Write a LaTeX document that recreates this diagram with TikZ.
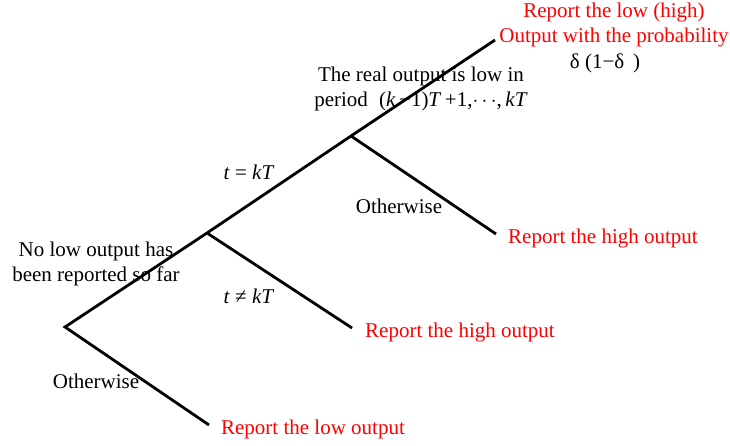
\documentclass[tikz,border=0pt]{standalone}
\usepackage{fontspec}
\setmainfont{Liberation Serif}
\newfontfamily\ser{Liberation Serif}
\begin{document}
\begin{tikzpicture}[x=1pt,y=-1pt,
  branch/.style={line width=2.8pt},
  lbl/.style={inner sep=0pt,font=\ser\fontsize{21}{24.5}\selectfont,align=center},
  res/.style={lbl,text=red}]
\useasboundingbox (0,0) rectangle (730,445);
\coordinate (A) at (65,327);
\coordinate (B) at (207,233);
\coordinate (C) at (351,136);
\coordinate (D) at (495,40);
\coordinate (E) at (209,425);
\coordinate (F) at (352,328);
\coordinate (G) at (496,234);
\draw[branch] (E) -- (A) -- (B) -- (C) -- (D);
\draw[branch] (B) -- (F);
\draw[branch] (C) -- (G);
% labels
\node[res] (topres) at (614,25) {Report the low (high)\\Output with the probability};
\node[lbl] (delta) at (605,63) {δ (1−δ\, )};
\node[lbl] (real) at (421,89) {The real output is low in\\period\; (\textit{k}\,−1)\textit{T}\,+1,$\cdots$,\,\textit{kT}};
\node[lbl] (teq) at (249,172) {\textit{t} = \textit{kT}};
\node[lbl] (oth1) at (399,206) {Otherwise};
\node[res] (hi1) at (603,238) {Report the high output};
\node[lbl] (nolow) at (96,264) {No low output has\\been reported so far};
\node[lbl] (tneq) at (249,296) {\textit{t} ≠ \textit{kT}};
\node[res] (hi2) at (460,332) {Report the high output};
\node[lbl] (oth2) at (96,381) {Otherwise};
\node[res] (low) at (313,429) {Report the low output};
\end{tikzpicture}
\end{document}
